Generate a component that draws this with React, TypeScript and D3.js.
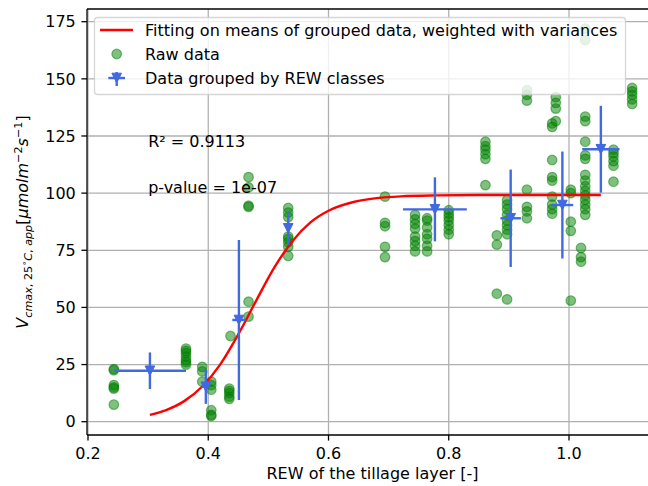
import React from 'react';
import * as d3 from 'd3';

const W = 648;
const H = 486;

const xTicks = [0.2, 0.4, 0.6, 0.8, 1.0];
const yTicks = [0, 25, 50, 75, 100, 125, 150, 175];

// Raw data: REW position of each column of points and the Vcmax values in it
const rawREW = [0.243, 0.363, 0.39, 0.405, 0.435, 0.437, 0.467, 0.533, 0.694, 0.744, 0.764, 0.8, 0.861, 0.88, 0.897, 0.93, 0.972, 0.978, 1.003, 1.02, 1.027, 1.074, 1.105];
const rawVcmax = [
  [23, 22.5, 16, 15, 14.5, 7.5],
  [32, 31, 30, 28.5, 27, 26, 25],
  [24, 22, 17.5],
  [17.5, 16, 14, 5, 3, 2.5],
  [14.5, 13.5, 12.5, 11, 10],
  [37.5],
  [107, 102.5, 94.5, 94, 52.5, 46],
  [93.5, 91.5, 89.5, 81, 80, 78.5, 76.5, 72.5],
  [98.5, 87, 85.5, 76.5, 72],
  [90.5, 88.5, 86.5, 84.5, 81, 79, 77, 74.5],
  [89, 88, 85, 82, 80, 77, 74.5],
  [92.5, 91, 89.5, 88, 86, 84, 82],
  [122.5, 120.5, 119, 117, 115, 103.5],
  [81.5, 77.5, 56],
  [97, 95, 93, 90.5, 88, 86, 84, 82, 53.5],
  [145, 143, 140.5, 101.5, 94, 92, 89],
  [130.5, 129, 114.5, 107, 105.5, 98.5, 95, 93, 91],
  [142, 139.5, 137, 131.5],
  [101.5, 100, 87.5, 83.5, 53],
  [76, 72, 70],
  [172, 167, 133.5, 131.5, 122.5, 116.5, 115, 108, 105.5, 103, 101, 99, 97, 95, 93, 90.5],
  [119, 117.5, 116, 114, 112, 105],
  [146, 144.5, 143, 141, 139],
];

// Grouped data (means with error bars)
const groupREW = [0.303, 0.396, 0.451, 0.533, 0.777, 0.903, 0.989, 1.053];
const groupVcmax = [22.3, 15.3, 44.5, 84.6, 92.9, 89, 94.8, 119.2];
const groupREWErr = [0.06, 0.0075, 0.011, 0, 0.053, 0.017, 0.018, 0.031];
const groupVcmaxErr = [8, 7.5, 35, 7.3, 14, 21.3, 23.4, 19];

// Fitted curve
const fitREW = [0.303, 0.33, 0.36, 0.39, 0.42, 0.45, 0.48, 0.51, 0.54, 0.57, 0.6, 0.64, 0.68, 0.72, 0.78, 0.85, 0.95, 1.053];
const fitVcmax = [3.0, 5.1, 9.0, 15.4, 25.1, 38.2, 53.1, 67.5, 79.0, 87.2, 92.3, 96.0, 97.8, 98.6, 99.0, 99.15, 99.2, 99.2];

const legendLabels = [
  'Fitting on means of grouped data, weighted with variances',
  'Raw data',
  'Data grouped by REW classes',
];

const FONT = 'DejaVu Sans';
const FS = 16;
const SUB = 11.2;

export default function App() {
  const left = 87;
  const top = 9;
  const bottom = 435;
  const x = d3.scaleLinear().domain([0.2, 1.0]).range([88, 569]);
  const y = d3.scaleLinear().domain([0, 175]).range([421.7, 21.7]);
  const right = x(1.148);

  const line = d3
    .line<number>()
    .x((_, i) => x(fitREW[i]))
    .y((d) => y(d))
    .curve(d3.curveMonotoneX);

  const green = '#008000';
  const blue = '#4169E1';
  const grid = '#b0b0b0';
  const LW = 2.4;
  const thin = 1.28;
  const tick = 5.6;
  const R = 4.8;

  const tri = (cx: number, cy: number, r = R) =>
    `M${cx - r},${cy - r}L${cx + r},${cy - r}L${cx},${cy + r}Z`;

  const points: { px: number; py: number }[] = [];
  rawREW.forEach((rx, i) => rawVcmax[i].forEach((v) => points.push({ px: x(rx), py: y(v) })));

  return (
    <svg
      width={W}
      height={H}
      style={{ position: 'absolute', left: 0, top: 0, background: '#fff' }}
      fontFamily={FONT}
    >
      <defs>
        <clipPath id="plot">
          <rect x={left} y={top} width={right - left} height={bottom - top} />
        </clipPath>
      </defs>
      <rect x={0} y={0} width={W} height={H} fill="#fff" />
      {/* grid */}
      {xTicks.map((t) => (
        <line key={'gx' + t} x1={x(t)} x2={x(t)} y1={top} y2={bottom} stroke={grid} strokeWidth={thin} />
      ))}
      {yTicks.map((t) => (
        <line key={'gy' + t} x1={left} x2={right} y1={y(t)} y2={y(t)} stroke={grid} strokeWidth={thin} />
      ))}
      <g clipPath="url(#plot)">
        {points.map((p, i) => (
          <circle
            key={i}
            cx={p.px}
            cy={p.py}
            r={R}
            fill={green}
            fillOpacity={0.5}
            stroke={green}
            strokeOpacity={0.5}
            strokeWidth={1.2}
          />
        ))}
        <path d={line(fitVcmax) || ''} fill="none" stroke="#ff0000" strokeWidth={LW} />
        {groupREW.map((gx, i) => {
          const cx = x(gx);
          const cy = y(groupVcmax[i]);
          return (
            <g key={'g' + i}>
              <line x1={cx} x2={cx} y1={y(groupVcmax[i] - groupVcmaxErr[i])} y2={y(groupVcmax[i] + groupVcmaxErr[i])} stroke={blue} strokeWidth={LW} />
              {groupREWErr[i] > 0 && (
                <line x1={x(gx - groupREWErr[i])} x2={x(gx + groupREWErr[i])} y1={cy} y2={cy} stroke={blue} strokeWidth={LW} />
              )}
              <path d={tri(cx, cy)} fill={blue} stroke={blue} strokeWidth={1} />
            </g>
          );
        })}
      </g>
      {/* annotations */}
      <text x={x(0.3)} y={y(120)} fontSize={FS} fill="#000">R² = 0.9113</text>
      <text x={x(0.3)} y={y(100)} fontSize={FS} fill="#000">p-value = 1e-07</text>
      {/* spines */}
      <line x1={left} x2={left} y1={top} y2={bottom} stroke="#000" strokeWidth={thin} />
      <line x1={left} x2={W} y1={bottom} y2={bottom} stroke="#000" strokeWidth={thin} />
      <line x1={left} x2={W} y1={top} y2={top} stroke="#000" strokeWidth={thin} />
      {/* ticks */}
      {xTicks.map((t) => (
        <g key={'tx' + t}>
          <line x1={x(t)} x2={x(t)} y1={bottom} y2={bottom + tick} stroke="#000" strokeWidth={thin} />
          <text x={x(t)} y={bottom + 23.5} fontSize={FS} textAnchor="middle" fill="#000">
            {t.toFixed(1)}
          </text>
        </g>
      ))}
      {yTicks.map((t) => (
        <g key={'ty' + t}>
          <line x1={left} x2={left - tick} y1={y(t)} y2={y(t)} stroke="#000" strokeWidth={thin} />
          <text x={left - 2 * tick} y={y(t)} dy="0.36em" fontSize={FS} textAnchor="end" fill="#000">
            {t}
          </text>
        </g>
      ))}
      {/* axis labels */}
      <text x={(left + right) / 2} y={479} fontSize={FS} textAnchor="middle" fill="#000">
        REW of the tillage layer [-]
      </text>
      <text transform={`translate(28,222) rotate(-90)`} fontSize={FS} textAnchor="middle" fill="#000">
        <tspan fontStyle="italic">V</tspan>
        <tspan fontSize={SUB} dy={3.5}>
          <tspan fontStyle="italic">cmax</tspan>, 25<tspan fontSize={8} dy={-4.5}>∘</tspan>
          <tspan dy={4.5} fontStyle="italic">C</tspan>, <tspan fontStyle="italic">app</tspan>
        </tspan>
        <tspan dy={-3.5}>[</tspan>
        <tspan fontStyle="italic">μmolm</tspan>
        <tspan fontSize={SUB} dy={-6}>−2</tspan>
        <tspan fontStyle="italic" dy={6}>s</tspan>
        <tspan fontSize={SUB} dy={-6}>−1</tspan>
        <tspan dy={6}>]</tspan>
      </text>
      {/* legend */}
      <rect x={94.5} y={17.5} width={531} height={77} rx={3} fill="#fff" fillOpacity={0.8} stroke="#cccccc" strokeOpacity={0.8} strokeWidth={thin} />
      <line x1={100} x2={133} y1={30} y2={30} stroke="#ff0000" strokeWidth={LW} />
      <circle cx={116.7} cy={54} r={R} fill={green} fillOpacity={0.5} stroke={green} strokeOpacity={0.5} strokeWidth={1.2} />
      <line x1={116.7} x2={116.7} y1={72} y2={86} stroke={blue} strokeWidth={LW} />
      <line x1={108.3} x2={125} y1={78} y2={78} stroke={blue} strokeWidth={LW} />
      <path d={tri(116.7, 78)} fill={blue} stroke={blue} strokeWidth={1} />
      {legendLabels.map((l, i) => (
        <text key={l} x={145} y={30 + i * 24} dy="0.36em" fontSize={FS} fill="#000">
          {l}
        </text>
      ))}
    </svg>
  );
}
